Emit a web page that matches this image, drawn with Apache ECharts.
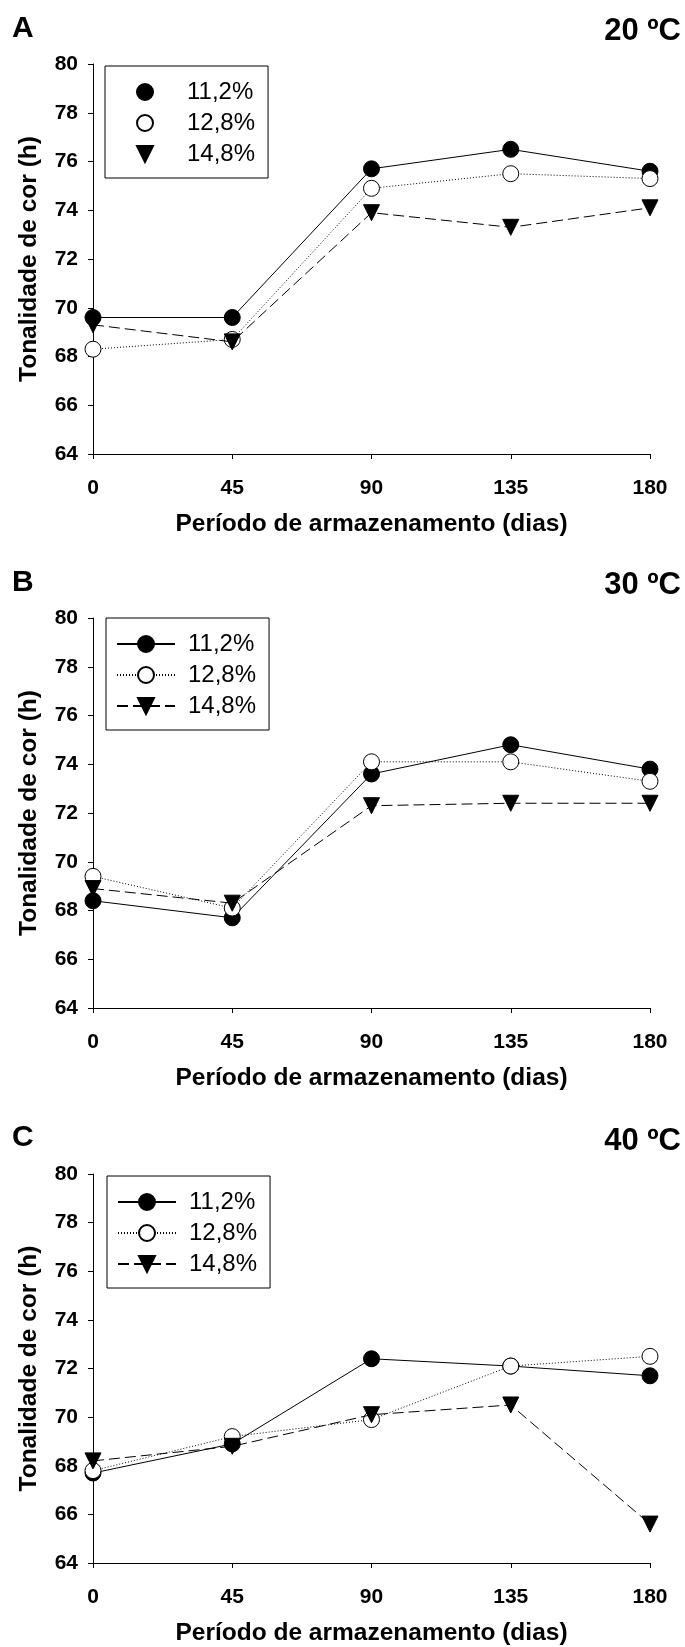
<!DOCTYPE html>
<html><head><meta charset="utf-8">
<script src="https://cdn.jsdelivr.net/npm/echarts@6/dist/echarts.min.js"></script>
<style>html,body{margin:0;padding:0;background:#fff}#c{width:685px;height:1647px}</style>
</head><body><div id="c"></div>
<script>
// ---- data ----
const days = [0, 45, 90, 135, 180];
const seriesNames = ['11,2%', '12,8%', '14,8%'];
const panelLabels = ['A', 'B', 'C'];
const tempLabels = ['20 ºC', '30 ºC', '40 ºC'];
const xTitle = 'Período de armazenamento (dias)';
const yTitle = 'Tonalidade de cor (h)';
// Panel A (20 ºC)
const a112 = [69.6, 69.6, 75.7, 76.5, 75.6];
const a128 = [68.3, 68.7, 74.9, 75.5, 75.3];
const a148 = [69.3, 68.6, 73.9, 73.3, 74.1];
// Panel B (30 ºC)
const b112 = [68.4, 67.7, 73.6, 74.8, 73.8];
const b128 = [69.4, 68.1, 74.1, 74.1, 73.3];
const b148 = [68.9, 68.3, 72.3, 72.4, 72.4];
// Panel C (40 ºC)
const c112 = [67.7, 68.9, 72.4, 72.1, 71.7];
const c128 = [67.8, 69.2, 69.9, 72.1, 72.5];
const c148 = [68.2, 68.8, 70.1, 70.5, 65.6];

const panels = [[a112, a128, a148], [b112, b128, b148], [c112, c128, c148]];

// ---- layout / style ----
const FONT = '"Liberation Sans", Arial, Helvetica, sans-serif';
const gridTops = [64, 618, 1174];
const legendBox = [[105, 66], [106, 618], [107, 1176]];
const labelTops = [14, 568, 1123];
const tempTops = [16, 570, 1126];

const styles = [
  { symbol: 'circle', size: 16, rot: 0, fill: '#000', line: 'solid' },
  { symbol: 'circle', size: 16, rot: 0, fill: '#fff', line: [1, 2] },
  { symbol: 'triangle', size: 16, rot: 180, fill: '#000', line: [11, 5] }
];

const grid = [], xAxis = [], yAxis = [], series = [], legend = [], title = [];
panels.forEach((pdata, p) => {
  grid.push({ left: 93, width: 557, top: gridTops[p], height: 390 });
  xAxis.push({
    gridIndex: p, type: 'value', min: 0, max: 180, interval: 45,
    name: xTitle, nameLocation: 'middle', nameGap: 58,
    nameTextStyle: { fontFamily: FONT, fontWeight: 'bold', fontSize: 24.5, color: '#000' },
    axisLine: { lineStyle: { color: '#000', width: 1 } },
    axisTick: { length: 5, lineStyle: { color: '#000' } },
    axisLabel: { fontFamily: FONT, fontWeight: 'bold', fontSize: 21, color: '#000', margin: 24 },
    splitLine: { show: false }
  });
  yAxis.push({
    gridIndex: p, type: 'value', min: 64, max: 80, interval: 2,
    name: yTitle, nameLocation: 'middle', nameGap: 51,
    nameTextStyle: { fontFamily: FONT, fontWeight: 'bold', fontSize: 24.5, color: '#000' },
    axisLine: { show: true, lineStyle: { color: '#000', width: 1 } },
    axisTick: { show: true, length: 5, lineStyle: { color: '#000' } },
    axisLabel: { fontFamily: FONT, fontWeight: 'bold', fontSize: 21, color: '#000', margin: 15 },
    splitLine: { show: false }
  });
  pdata.forEach((vals, s) => {
    const st = styles[s];
    series.push({
      type: 'line', name: seriesNames[s], xAxisIndex: p, yAxisIndex: p,
      data: days.map((d, i) => [d, vals[i]]),
      symbol: st.symbol, symbolSize: st.size, symbolRotate: st.rot,
      showAllSymbol: true,
      lineStyle: { color: '#000', width: 1, type: st.line },
      itemStyle: { color: st.fill, borderColor: '#000', borderWidth: 1 },
      emphasis: { disabled: true },
      z: 2 + s, animation: false
    });
  });
  legend.push({
    orient: 'vertical', left: legendBox[p][0], top: legendBox[p][1],
    data: seriesNames,
    itemWidth: 58, itemHeight: 20, itemGap: 7,
    padding: [14, 13, 12, 10],
    borderColor: '#000', borderWidth: 1,
    selectedMode: false,
    lineStyle: p === 0 ? { opacity: 0 } : {},
    textStyle: { fontFamily: FONT, fontSize: 24, color: '#000', padding: [0, 0, 0, 8] }
  });
  title.push({ text: panelLabels[p], left: 12, top: labelTops[p], padding: 0,
    textStyle: { fontFamily: FONT, fontWeight: 'bold', fontSize: 30, color: '#000' } });
  title.push({ text: tempLabels[p], right: 4, top: tempTops[p], padding: 0,
    textStyle: { fontFamily: FONT, fontWeight: 'bold', fontSize: 31, color: '#000' } });
});

const chart = echarts.init(document.getElementById('c'), null, { renderer: 'canvas' });
chart.setOption({ animation: false, backgroundColor: '#fff', title, grid, xAxis, yAxis, series, legend });
</script>
</body></html>
